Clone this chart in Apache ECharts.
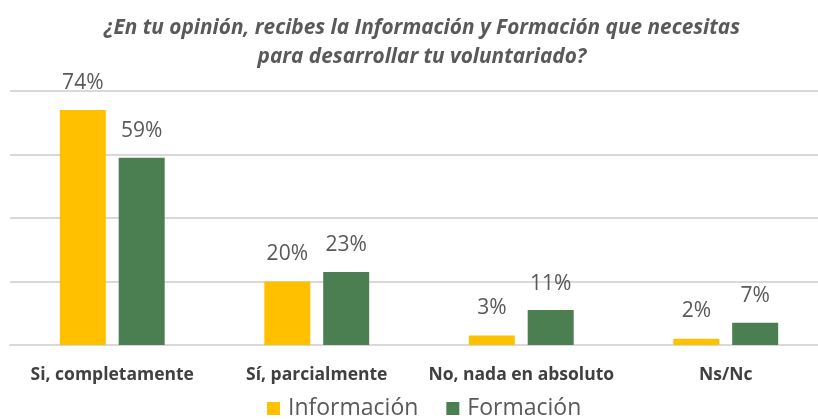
<!DOCTYPE html>
<html>
<head>
<meta charset="utf-8">
<script src="https://cdn.jsdelivr.net/npm/echarts@6/dist/echarts.min.js"></script>
<style>
  html, body { margin: 0; padding: 0; background: #fff; }
  #chart { width: 818px; height: 419px; }
</style>
</head>
<body>
<div id="chart"></div>
<script>
var categories = ['Si, completamente', 'Sí, parcialmente', 'No, nada en absoluto', 'Ns/Nc'];
var informacion = [74, 20, 3, 2];
var formacion = [59, 23, 11, 7];
var yTicks = [0, 20, 40, 60, 80];

var fontMain = '"Open Sans", sans-serif';

var option = {
    animation: false,
    backgroundColor: '#fff',
    title: {
        text: '¿En tu opinión, recibes la Información y Formación que necesitas\npara desarrollar tu voluntariado?',
        left: 417,
        textAlign: 'center',
        top: 9,
        textStyle: {
            fontFamily: fontMain,
            fontSize: 20.8,
            fontStyle: 'italic',
            fontWeight: 'bold',
            color: '#595959',
            lineHeight: 29
        }
    },
    legend: {
        top: 392,
        left: 262,
        itemWidth: 13,
        itemHeight: 13,
        itemGap: 28,
        icon: 'rect',
        textStyle: {
            fontFamily: fontMain,
            fontSize: 23,
            color: '#595959',
            padding: [0, 0, 0, 3]
        },
        data: ['Información', 'Formación']
    },
    grid: {
        left: 10,
        width: 818,
        top: 91,
        bottom: 74,
        outerBoundsMode: 'none'
    },
    xAxis: {
        type: 'category',
        data: categories,
        axisLine: { lineStyle: { color: '#d9d9d9', width: 2 } },
        axisTick: { show: false },
        axisLabel: {
            interval: 0,
            margin: 21,
            fontFamily: fontMain,
            fontSize: 17.5,
            fontWeight: 'bold',
            color: '#404040'
        }
    },
    yAxis: {
        type: 'value',
        min: yTicks[0],
        max: yTicks[yTicks.length - 1],
        interval: 20,
        axisLabel: { show: false },
        axisLine: { show: false },
        axisTick: { show: false },
        splitLine: { lineStyle: { color: '#d9d9d9', width: 2 } }
    },
    series: [
        {
            name: 'Información',
            type: 'bar',
            data: informacion,
            barWidth: 46,
            barGap: '28%',
            itemStyle: { color: '#FFC000' },
            label: {
                show: true,
                position: 'top',
                distance: 17,
                formatter: '{c}%',
                fontFamily: fontMain,
                fontSize: 21,
                color: '#595959'
            }
        },
        {
            name: 'Formación',
            type: 'bar',
            data: formacion,
            barWidth: 46,
            barGap: '28%',
            itemStyle: { color: '#4B7F52' },
            label: {
                show: true,
                position: 'top',
                distance: 16,
                formatter: '{c}%',
                fontFamily: fontMain,
                fontSize: 21,
                color: '#595959'
            }
        }
    ]
};

var myChart = echarts.init(document.getElementById('chart'));
myChart.setOption(option);
</script>
</body>
</html>
